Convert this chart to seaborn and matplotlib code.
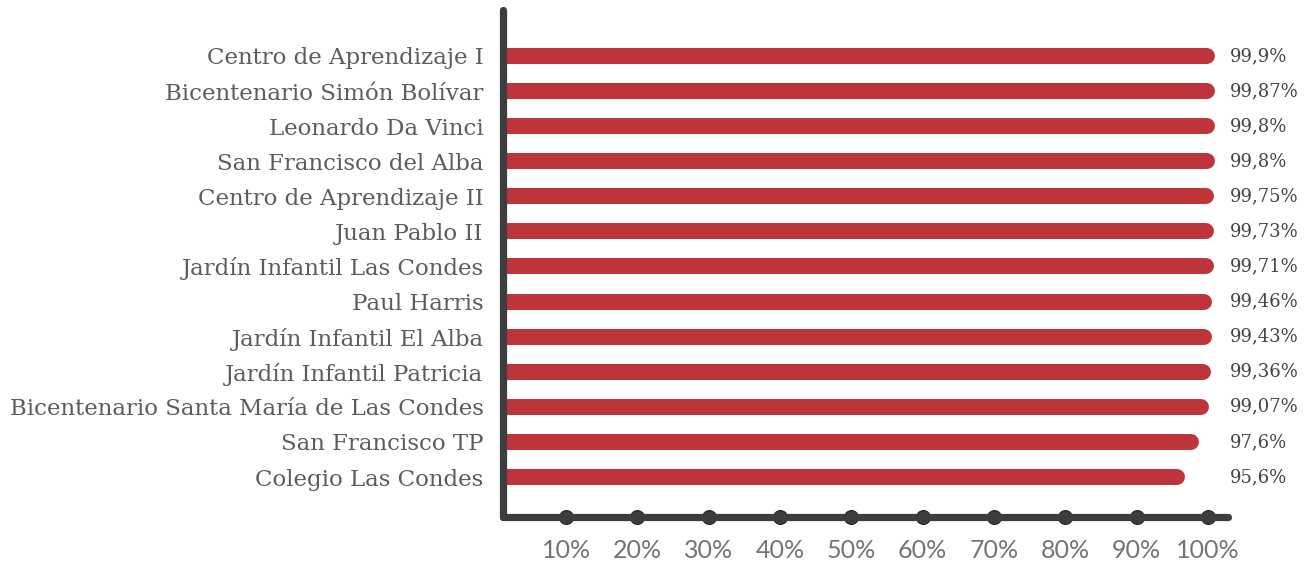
import numpy as np
import matplotlib
matplotlib.use("Agg")
import matplotlib.pyplot as plt
import seaborn as sns

# data
schools = [
    "Centro de Aprendizaje I",
    "Bicentenario Simón Bolívar",
    "Leonardo Da Vinci",
    "San Francisco del Alba",
    "Centro de Aprendizaje II",
    "Juan Pablo II",
    "Jardín Infantil Las Condes",
    "Paul Harris",
    "Jardín Infantil El Alba",
    "Jardín Infantil Patricia",
    "Bicentenario Santa María de Las Condes",
    "San Francisco TP",
    "Colegio Las Condes",
]
values = [99.9, 99.87, 99.8, 99.8, 99.75, 99.73, 99.71, 99.46, 99.43, 99.36, 99.07, 97.6, 95.6]
value_labels = ["99,9%", "99,87%", "99,8%", "99,8%", "99,75%", "99,73%", "99,71%",
                "99,46%", "99,43%", "99,36%", "99,07%", "97,6%", "95,6%"]
xticks = [10, 20, 30, 40, 50, 60, 70, 80, 90, 100]
xtick_labels = ["10%", "20%", "30%", "40%", "50%", "60%", "70%", "80%", "90%", "100%"]

RED = "#bf333b"
DARK = "#3d3d40"

sns.set_style("white")
plt.rcParams["font.family"] = ["DejaVu Serif"]

fig = plt.figure(figsize=(13.08, 5.61), dpi=100)
ax = fig.add_axes([0.3846, 0.0784, 0.5542, 0.9038])

# rounded bars: thick lines with round caps
ypos = np.arange(len(schools))
bars = ax.hlines(ypos, 0, values, color=RED, linewidth=11.5)
bars.set_capstyle("round")

ax.set_xlim(1.16, 102.8)
ax.set_ylim(len(schools) - 1 + 1.14, -1.31)

for sp in ["top", "right"]:
    ax.spines[sp].set_visible(False)
for sp in ["left", "bottom"]:
    ax.spines[sp].set_color(DARK)
    ax.spines[sp].set_linewidth(5.2)
    ax.spines[sp].set_capstyle("round")
    ax.spines[sp].set_zorder(5)

ax.set_yticks(ypos)
ax.set_yticklabels(schools, fontsize=16.5, color="#5c5c5c")
ax.tick_params(axis="y", length=0, pad=14)

ax.set_xticks(xticks)
ax.set_xticklabels(xtick_labels, fontsize=18, color="#747474",
                   family=["Lato", "DejaVu Sans"])
ax.tick_params(axis="x", length=0, pad=16, bottom=True)
# dots instead of tick marks
for tl in ax.xaxis.get_ticklines():
    tl.set_marker("o")
    tl.set_markersize(10)
    tl.set_color(DARK)
    tl.set_zorder(6)

for y, lab in zip(ypos, value_labels):
    ax.text(1.002, y, lab, transform=ax.get_yaxis_transform(), ha="left", va="center",
            fontsize=13, color="#444444")

ax.grid(False)
fig.savefig("out.png", dpi=100)
